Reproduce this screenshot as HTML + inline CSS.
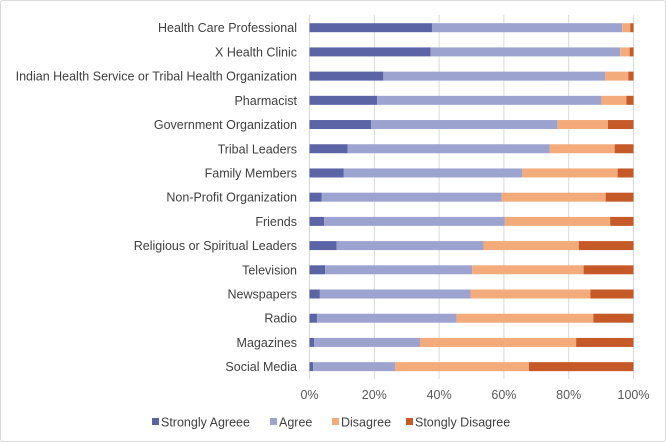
<!DOCTYPE html>
<html><head><meta charset="utf-8"><style>
html,body{margin:0;padding:0;background:#fff}
body{width:666px;height:442px;overflow:hidden;font-family:"Liberation Sans",sans-serif}
#frame{position:absolute;left:0;top:0;width:664px;height:440px;border:1px solid #d9d9d9;border-radius:3px}
</style></head><body>
<div id="frame"></div>
<svg id="chart" width="666" height="442" style="position:absolute;left:0;top:0"></svg>
<script>
const categories=["Health Care Professional","X Health Clinic","Indian Health Service or Tribal Health Organization","Pharmacist","Government Organization","Tribal Leaders","Family Members","Non-Profit Organization","Friends","Religious or Spiritual Leaders","Television","Newspapers","Radio","Magazines","Social Media"];
const stronglyAgree=[37.8,37.4,22.8,20.9,19.0,11.8,10.6,3.8,4.5,8.4,4.8,3.2,2.3,1.4,1.1];
const agree=[58.7,58.5,68.4,69.2,57.5,62.3,55.1,55.5,55.8,45.3,45.4,46.5,43.1,32.7,25.3];
const disagree=[2.5,2.9,7.2,7.7,15.6,20.1,29.4,32.1,32.5,29.4,34.4,37.0,42.2,48.2,41.3];
const stronglyDisagree=[1.0,1.2,1.6,2.2,7.9,5.8,4.9,8.6,7.2,16.9,15.4,13.3,12.4,17.7,32.3];
const seriesNames=["Strongly Agreee","Agree","Disagree","Stongly Disagree"];
const tickValues=[0,20,40,60,80,100];
const tickLabels=["0%","20%","40%","60%","80%","100%"];
const colors=["#5b65a5","#9da3cf","#f3ab7b","#c55a28"];
const series=[stronglyAgree,agree,disagree,stronglyDisagree];
const NS="http://www.w3.org/2000/svg";
const svg=document.getElementById('chart');
const x0=309.5,x1=633.5,yTop=15,yBot=379,row0=27.7,rowStep=24.21,barH=9;
function xs(v){return x0+(x1-x0)*v/100;}
function ys(i){return row0+rowStep*i;}
function mk(tag,attrs){const e=document.createElementNS(NS,tag);for(const k in attrs)e.setAttribute(k,attrs[k]);svg.appendChild(e);return e;}
tickValues.forEach((t,i)=>{
  const l=mk('line',{x1:xs(t),x2:xs(t),y1:yTop,y2:yBot,stroke:'#d9d9d9','stroke-width':1});
  
  
  const tx=mk('text',{x:xs(t),y:399,'text-anchor':'middle','font-size':'12.5',fill:'#595959'});
  tx.textContent=tickLabels[i];
  
  
});
categories.forEach((c,i)=>{
  const tx=mk('text',{x:297,y:ys(i)+4.5,'text-anchor':'end','font-size':'12.5',fill:'#404040'});
  tx.textContent=c;
  
  
  let acc=0;
  series.forEach((s,k)=>{
    const r=mk('rect',{x:xs(acc),y:ys(i)-barH/2,width:xs(acc+s[i])-xs(acc),height:barH,fill:colors[k]});
    
    
    acc+=s[i];
  });
});
const legX=[152,270,332,406];
seriesNames.forEach((n,k)=>{
  const g=document.createElementNS(NS,'g');svg.appendChild(g);
  
  
  const r=document.createElementNS(NS,'rect');
  r.setAttribute('x',legX[k]);r.setAttribute('y',418);r.setAttribute('width',7);r.setAttribute('height',7);r.setAttribute('fill',colors[k]);
  g.appendChild(r);
  const t=document.createElementNS(NS,'text');
  t.setAttribute('x',legX[k]+9);t.setAttribute('y',426.5);t.setAttribute('font-size','12.5');t.setAttribute('fill','#404040');
  t.textContent=n;g.appendChild(t);
});
</script>
</body></html>
